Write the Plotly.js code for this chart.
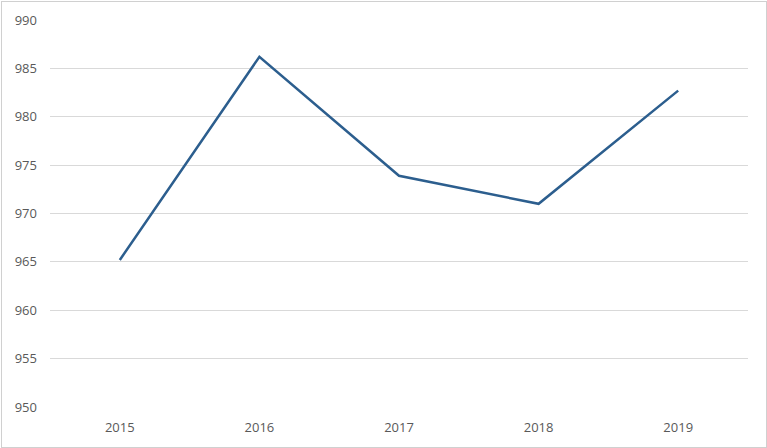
<!DOCTYPE html>
<html>
<head>
<meta charset="utf-8">
<script src="https://cdn.plot.ly/plotly-3.0.1.min.js"></script>
<style>
html,body{margin:0;padding:0;background:#fff;}
#wrap{position:relative;width:767px;height:448px;}
#chart{width:767px;height:448px;}
#frame{position:absolute;left:1px;top:1px;width:764px;height:445px;border:1px solid #d0d0d0;pointer-events:none;}
</style>
</head>
<body>
<div id="wrap"><div id="chart"></div><div id="frame"></div></div>
<script>
const years = ["2015", "2016", "2017", "2018", "2019"];
const values = [965.2, 986.2, 973.9, 971.0, 982.7];
const yTicks = [950, 955, 960, 965, 970, 975, 980, 985, 990];

Plotly.newPlot("chart", [{
  x: years,
  y: values,
  type: "scatter",
  mode: "lines",
  line: {color: "#2C5E8E", width: 2.5},
  hoverinfo: "skip"
}], {
  width: 767,
  height: 448,
  margin: {l: 50, r: 19, t: 20, b: 41},
  paper_bgcolor: "#ffffff",
  plot_bgcolor: "#ffffff",
  showlegend: false,
  font: {family: "'Open Sans', 'Liberation Sans', 'DejaVu Sans', sans-serif", size: 13, color: "#595959"},
  xaxis: {
    type: "category",
    range: [-0.5, 4.5],
    showgrid: false,
    zeroline: false,
    showline: false,
    ticks: "",
    tickfont: {size: 13, color: "#595959"},
    ticklabelstandoff: 11
  },
  yaxis: {
    range: [950, 990],
    tickvals: yTicks,
    showgrid: true,
    gridcolor: "#d9d9d9",
    gridwidth: 1,
    zeroline: false,
    showline: false,
    ticks: "",
    tickfont: {size: 13, color: "#595959"},
    ticklabelstandoff: 12
  }
}, {staticPlot: true, displayModeBar: false});
</script>
</body>
</html>
